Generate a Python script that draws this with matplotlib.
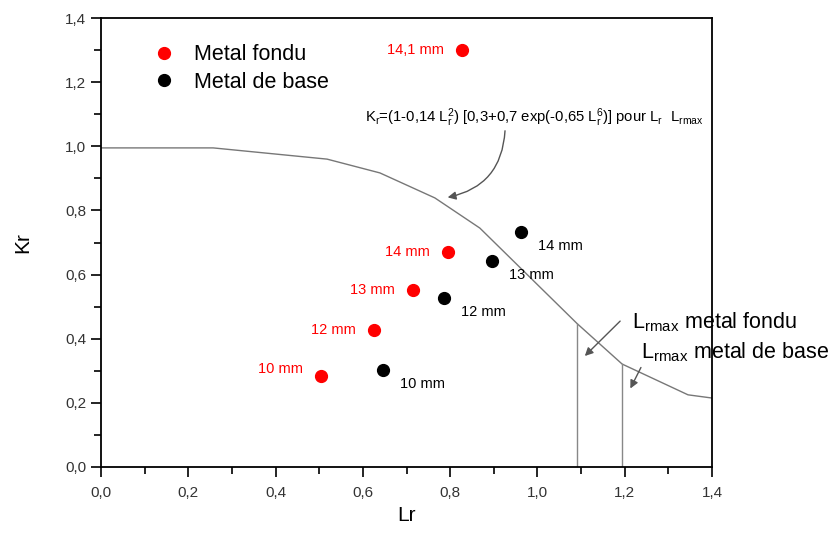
import numpy as np
import matplotlib
matplotlib.use("Agg")
import matplotlib.pyplot as plt

plt.rcParams['font.family'] = ['Liberation Sans', 'DejaVu Sans']
plt.rcParams['mathtext.fontset'] = 'custom'
plt.rcParams['mathtext.rm'] = 'Liberation Sans'
plt.rcParams['mathtext.it'] = 'Liberation Sans'
plt.rcParams['mathtext.bf'] = 'Liberation Sans:bold'

# data
fondu_lr = [0.504, 0.626, 0.715, 0.795, 0.827]
fondu_kr = [0.284, 0.427, 0.552, 0.670, 1.300]
fondu_lab = ['10 mm', '12 mm', '13 mm', '14 mm', '14,1 mm']

base_lr = [0.646, 0.786, 0.896, 0.962]
base_kr = [0.302, 0.527, 0.642, 0.733]
base_lab = ['10 mm', '12 mm', '13 mm', '14 mm']

curve_lr = [0.0, 0.257, 0.518, 0.639, 0.765, 0.868, 1.091, 1.194, 1.345, 1.4]
curve_kr = [0.995, 0.995, 0.960, 0.917, 0.839, 0.745, 0.447, 0.321, 0.225, 0.215]

lrmax = [1.091, 1.194]
lrmax_kr = [0.447, 0.321]

fig = plt.figure(figsize=(8.32, 5.38), dpi=100)
ax = fig.add_axes([0.1214, 0.132, 0.7344, 0.8345])

ax.plot(curve_lr, curve_kr, color='#777777', lw=1.0)
for x, y in zip(lrmax, lrmax_kr):
    ax.plot([x, x], [0, y], color='#888888', lw=1.0)

ax.plot(fondu_lr, fondu_kr, 'o', color='red', ms=8.5, ls='none', label='Metal fondu')
ax.plot(base_lr, base_kr, 'o', color='black', ms=8.5, ls='none', label='Metal de base')

# labels of the points
for x, y, t in zip(fondu_lr, fondu_kr, fondu_lab):
    dy = 0.03 if t == '10 mm' else 0.0
    ax.annotate(t, (x, y), xytext=(-13, 0), textcoords='offset points',
                ha='right', va='bottom' if dy else 'center', color='red', fontsize=10.5)
for x, y, t in zip(base_lr, base_kr, base_lab):
    ax.annotate(t, (x, y), xytext=(12, -5), textcoords='offset points',
                ha='left', va='top', color='black', fontsize=10.5)

ax.text(0.605, 1.088,
        r'$\mathregular{K_r}$=(1-0,14 $\mathregular{L_r^2}$) [0,3+0,7 exp(-0,65 $\mathregular{L_r^6}$)] pour $\mathregular{L_r}$  $\mathregular{L_{rmax}}$',
        fontsize=10.7, ha='left', va='center')
ax.annotate('', xy=(0.788, 0.839), xytext=(0.926, 1.057),
            arrowprops=dict(arrowstyle='-|>', color='#555555', lw=1.0,
                            connectionstyle='arc3,rad=-0.4', mutation_scale=12))

ax.annotate('', xy=(1.104, 0.340), xytext=(1.194, 0.461),
            arrowprops=dict(arrowstyle='-|>', color='#555555', lw=1.0, mutation_scale=12))
ax.annotate('', xy=(1.210, 0.237), xytext=(1.240, 0.318),
            arrowprops=dict(arrowstyle='-|>', color='#555555', lw=1.0, mutation_scale=12))
ax.text(1.217, 0.452, r'$\mathregular{L_{rmax}}$ metal fondu', fontsize=15.5,
        ha='left', va='center', clip_on=False)
ax.text(1.237, 0.359, r'$\mathregular{L_{rmax}}$ metal de base', fontsize=15.5,
        ha='left', va='center', clip_on=False)

ax.legend(loc='upper left', bbox_to_anchor=(0.053, 0.985), frameon=False,
          fontsize=15.5, handletextpad=0.9, labelspacing=0.32, handlelength=1.0)

ax.set_xlim(0, 1.4)
ax.set_ylim(0, 1.4)
ticks = np.arange(0, 1.41, 0.2)
ax.set_xticks(ticks)
ax.set_yticks(ticks)
ax.set_xticklabels([f'{t:.1f}'.replace('.', ',') for t in ticks])
ax.set_yticklabels([f'{t:.1f}'.replace('.', ',') for t in ticks])
ax.set_xticks(np.arange(0.1, 1.4, 0.2), minor=True)
ax.set_yticks(np.arange(0.1, 1.4, 0.2), minor=True)
ax.tick_params(which='major', direction='out', length=7, width=1.2, labelsize=11,
               labelcolor='#333333')
ax.tick_params(axis='x', which='major', pad=7)
ax.tick_params(which='minor', direction='out', length=5, width=1.2)
for s in ax.spines.values():
    s.set_linewidth(1.3)

ax.set_xlabel('Lr', fontsize=15, labelpad=4)
ax.set_ylabel('Kr', fontsize=15, labelpad=24)

fig.savefig('out.png', dpi=100)
